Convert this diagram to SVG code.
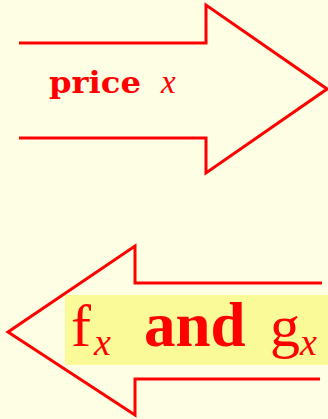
<svg xmlns="http://www.w3.org/2000/svg" width="328" height="419" viewBox="0 0 328 419">
<style>
.arrow{fill:none;stroke:#ff0000;stroke-width:3;stroke-linejoin:miter}
.lbl{fill:#ff0000;font-family:"DejaVu Serif",serif}
.big{fill:#ff0000;font-family:"Liberation Serif",serif}
</style>
<rect width="328" height="419" fill="#fefee4"/>
<g id="connectors">
<g id="arrow-price">
<polyline class="arrow" points="19,43 206,43 206,5 327,89 206,173 206,138 19,138"/>
<text class="lbl" x="49" y="93" font-size="30" font-weight="bold" textLength="92" lengthAdjust="spacingAndGlyphs">price</text>
<text class="big" x="161" y="93" font-size="33" font-style="italic">x</text>
</g>
<g id="arrow-fg">
<polyline class="arrow" points="322,283 135,283 135,246 8,332 135,415 135,379 320,379"/>
<rect x="65" y="295" width="263" height="70" fill="#fafa98"/>
<text class="big" x="71" y="346" font-size="60">f</text>
<text class="big" x="94" y="355" font-size="38" font-style="italic">x</text>
<text class="big" x="144" y="346" font-size="63" font-weight="bold">and</text>
<text class="big" x="270" y="346" font-size="60">g</text>
<text class="big" x="300" y="355" font-size="38" font-style="italic">x</text>
</g>
</g>
</svg>
